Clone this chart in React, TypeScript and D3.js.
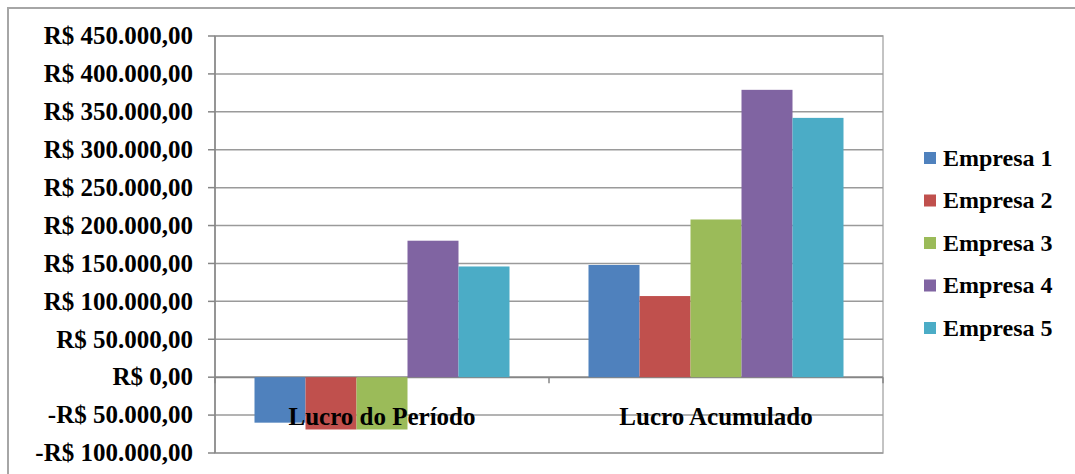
import React, { useEffect, useRef } from 'react';
import * as d3 from 'd3';

// Chart data
const categories = ['Lucro do Período', 'Lucro Acumulado'];
const series = ['Empresa 1', 'Empresa 2', 'Empresa 3', 'Empresa 4', 'Empresa 5'];
const colors = ['#4f81bd', '#c0504d', '#9bbb59', '#8064a2', '#4bacc6'];
const periodValues = [-60000, -69000, -69000, 180000, 146000];
const accumulatedValues = [148000, 107000, 208000, 379000, 342000];
const yTicks = [450000, 400000, 350000, 300000, 250000, 200000, 150000, 100000, 50000, 0, -50000, -100000];

const fmt = (v: number) => {
  const abs = Math.abs(v);
  const s = abs.toString().replace(/\B(?=(\d{3})+(?!\d))/g, '.');
  return (v < 0 ? '-' : '') + 'R$ ' + s + ',00';
};

const App = () => {
  const ref = useRef<SVGSVGElement | null>(null);

  useEffect(() => {
    const svg = d3.select(ref.current);
    svg.selectAll('*').remove();

    const font = "'Liberation Serif'";
    const plot = { left: 215, right: 883, top: 36, bottom: 453 };

    // outer chart border
    svg.append('rect')
      .attr('x', 8).attr('y', 8)
      .attr('width', 1075).attr('height', 480)
      .attr('fill', 'white')
      .attr('stroke', '#a6a6a6')
      .attr('stroke-width', 2);

    const y = d3.scaleLinear().domain([-100000, 450000]).range([plot.bottom, plot.top]);
    const x0 = d3.scaleBand().domain(categories).range([plot.left, plot.right]).padding(0);
    const x1 = d3.scaleBand().domain(series).range([39.5, x0.bandwidth() - 39.5]).padding(0);

    // plot area border
    svg.append('rect')
      .attr('x', plot.left).attr('y', plot.top)
      .attr('width', plot.right - plot.left).attr('height', plot.bottom - plot.top)
      .attr('fill', 'none')
      .attr('stroke', '#b0b0b0')
      .attr('stroke-width', 1.5);

    // gridlines
    svg.selectAll('.grid')
      .data(yTicks)
      .enter()
      .append('line')
      .attr('x1', plot.left).attr('x2', plot.right)
      .attr('y1', d => y(d)).attr('y2', d => y(d))
      .attr('stroke', d => (d === 0 ? '#868686' : '#9a9a9a'))
      .attr('stroke-width', d => (d === 0 ? 2 : 1.5));

    // y axis line + ticks
    svg.append('line')
      .attr('x1', plot.left).attr('x2', plot.left)
      .attr('y1', plot.top).attr('y2', plot.bottom)
      .attr('stroke', '#868686').attr('stroke-width', 1.5);
    svg.selectAll('.ytick')
      .data(yTicks)
      .enter()
      .append('line')
      .attr('x1', plot.left - 7).attr('x2', plot.left)
      .attr('y1', d => y(d)).attr('y2', d => y(d))
      .attr('stroke', '#868686').attr('stroke-width', 1.5);
    svg.selectAll('.ylabel')
      .data(yTicks)
      .enter()
      .append('text')
      .attr('x', 193)
      .attr('y', d => y(d))
      .attr('dy', '0.33em')
      .attr('text-anchor', 'end')
      .style('font-family', font)
      .style('font-weight', 'bold')
      .style('font-size', '25px')
      .text(d => fmt(d));

    // category ticks on zero line
    const catEdges = [plot.left, ...categories.map(c => (x0(c) as number) + x0.bandwidth())];
    svg.selectAll('.xtick')
      .data(catEdges)
      .enter()
      .append('line')
      .attr('x1', d => d).attr('x2', d => d)
      .attr('y1', y(0)).attr('y2', y(0) + 6)
      .attr('stroke', '#868686').attr('stroke-width', 1.5);

    // bars
    const rows = [periodValues, accumulatedValues];
    categories.forEach((c, ci) => {
      svg.append('g')
        .attr('transform', `translate(${x0(c)},0)`)
        .selectAll('rect')
        .data(series)
        .enter()
        .append('rect')
        .attr('x', s => x1(s) as number)
        .attr('width', x1.bandwidth())
        .attr('y', (s, i) => y(Math.max(0, rows[ci][i])))
        .attr('height', (s, i) => Math.abs(y(rows[ci][i]) - y(0)))
        .attr('fill', (s, i) => colors[i]);
    });

    // category labels (drawn over bars)
    svg.selectAll('.xlabel')
      .data(categories)
      .enter()
      .append('text')
      .attr('x', d => (x0(d) as number) + x0.bandwidth() / 2)
      .attr('y', 425)
      .attr('text-anchor', 'middle')
      .style('font-family', font)
      .style('font-weight', 'bold')
      .style('font-size', '25px')
      .text(d => d);

    // legend
    const legend = svg.selectAll('.legend')
      .data(series)
      .enter()
      .append('g')
      .attr('transform', (d, i) => `translate(924,${158 + i * 42.5})`);
    legend.append('rect')
      .attr('x', 0).attr('y', -6)
      .attr('width', 12).attr('height', 12)
      .attr('fill', (d, i) => colors[i]);
    legend.append('text')
      .attr('x', 19)
      .attr('y', 0)
      .attr('dy', '0.33em')
      .style('font-family', font)
      .style('font-weight', 'bold')
      .style('font-size', '24px')
      .text(d => d);
  }, []);

  return (
    <svg
      ref={ref}
      width={1075}
      height={474}
      style={{ position: 'absolute', left: 0, top: 0 }}
    ></svg>
  );
};

export default App;
